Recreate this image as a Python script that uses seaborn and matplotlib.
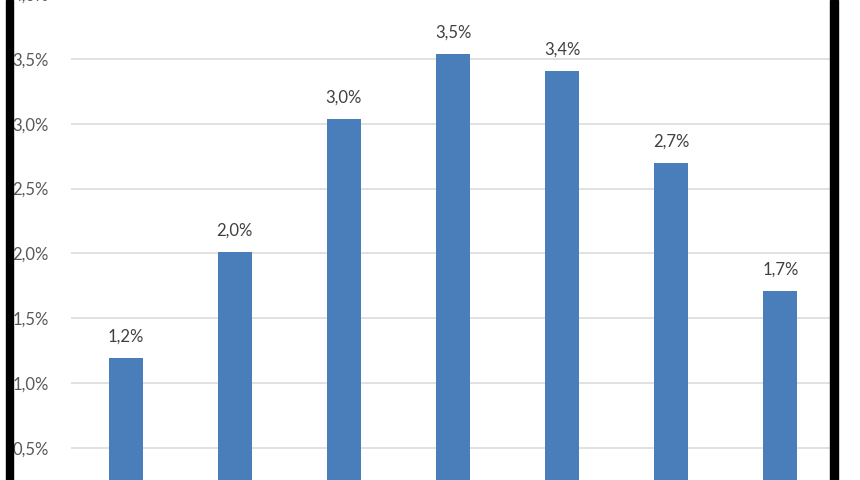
import matplotlib
matplotlib.use("Agg")
import matplotlib.pyplot as plt
from matplotlib.patches import Rectangle
import seaborn as sns

# Values (percent)
groups = ["1", "2", "3", "4", "5", "6", "7"]
shares = [1.19, 2.01, 3.04, 3.54, 3.41, 2.70, 1.71]
yticks = [0.5, 1.0, 1.5, 2.0, 2.5, 3.0, 3.5, 4.0]

sns.set_style("white")
plt.rcParams['font.family'] = ['Lato', 'DejaVu Sans']

fig = plt.figure(figsize=(8.6, 4.8), dpi=100)
# the screenshot is cropped: axes run past the top and bottom of the picture
ax = fig.add_axes([0.0828, -0.0683, 0.888, 1.1346])

sns.barplot(x=groups, y=shares, color="#4A7EBB", width=0.31,
            linewidth=0, saturation=1, ax=ax)

ax.set_ylim(0, 4.2)
ax.set_yticks(yticks)
ax.set_yticklabels([f"{t:.1f}%".replace(".", ",") for t in yticks],
                   fontsize=12, color="#595959")
ax.tick_params(axis="y", length=0, pad=16)
ax.set_xticks([])
ax.set_xlabel("")
ax.set_ylabel("")
ax.yaxis.grid(True, color="#d9d9d9", linewidth=1.1)
ax.set_axisbelow(True)
for s in ax.spines.values():
    s.set_visible(False)

# value labels
for i, v in enumerate(shares):
    ax.text(i, v + 0.165, f"{v:.1f}%".replace(".", ","), ha="center",
            va="center", fontsize=12, color="#404040")

# black frame of the screenshot
fig.add_artist(Rectangle((6 / 860, 0), 7 / 860, 1, transform=fig.transFigure,
                         color="black"))
fig.add_artist(Rectangle((830 / 860, 0), 8 / 860, 1, transform=fig.transFigure,
                         color="black"))

fig.savefig("out.png", dpi=100)
